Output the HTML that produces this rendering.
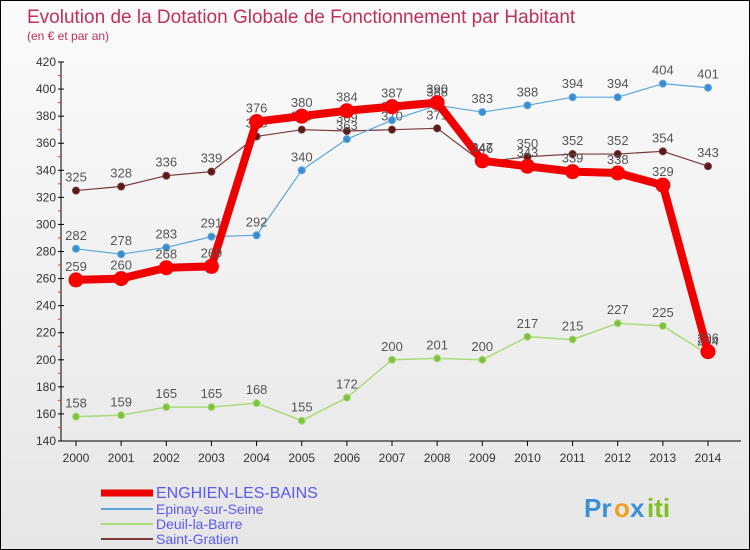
<!DOCTYPE html>
<html><head><meta charset="utf-8"><style>
body{margin:0}
#c{width:748px;height:548px;border:1px solid #000;background:linear-gradient(#fbfbfb,#e6e6e6);position:relative;font-family:"Liberation Sans",sans-serif;overflow:hidden}
</style></head><body>
<div id="c">
<svg id="s" width="748" height="548" xmlns="http://www.w3.org/2000/svg">
<text x="26" y="22" font-size="19" fill="#c0305a">Evolution de la Dotation Globale de Fonctionnement par Habitant</text>
<text x="26" y="39" font-size="12" fill="#c0305a">(en € et par an)</text>
<g id="axes"></g><g id="series"></g><g id="legend"></g>
<g font-size="26" font-weight="bold">
<text x="583" y="516" fill="#3a8fd8">Pr</text><text x="613" y="516" fill="#f0a020">o</text><text x="629" y="516" fill="#3a8fd8">x</text><text x="646" y="516" fill="#80c020">iti</text>
</g>
</svg>
</div>
<script>
const years=[2000,2001,2002,2003,2004,2005,2006,2007,2008,2009,2010,2011,2012,2013,2014];
const yTicks=[140,160,180,200,220,240,260,280,300,320,340,360,380,400,420];
const enghien=[259,260,268,269,376,380,384,387,390,347,343,339,338,329,206];
const epinay=[282,278,283,291,292,340,363,377,388,383,388,394,394,404,401];
const deuil=[158,159,165,165,168,155,172,200,201,200,217,215,227,225,204];
const gratien=[325,328,336,339,365,370,369,370,371,346,350,352,352,354,343];
const NS="http://www.w3.org/2000/svg";
const X=i=>75+i*(707-75)/14;
const Y=v=>440-(v-140)*(379/280);
function mk(t,a,p){const e=document.createElementNS(NS,t);for(const k in a)e.setAttribute(k,a[k]);p.appendChild(e);return e;}
const ax=document.getElementById('axes');
const yl=mk('line',{x1:60,y1:Y(420),x2:60,y2:Y(140),stroke:'#000'},ax);


const xl=mk('line',{x1:60,y1:440,x2:740,y2:440,stroke:'#000'},ax);


yTicks.forEach(v=>{
 mk('line',{x1:57,y1:Y(v),x2:63,y2:Y(v),stroke:'#000'},ax);
 if(v<420) mk('line',{x1:57,y1:Y(v+10),x2:60,y2:Y(v+10),stroke:'#e33'},ax);
 const t=mk('text',{x:55,y:Y(v)+4,'font-size':12,fill:'#333','text-anchor':'end'},ax);t.textContent=v;
 
 
});
years.forEach((y,i)=>{
 mk('line',{x1:X(i),y1:440,x2:X(i),y2:445,stroke:'#000'},ax);
 const t=mk('text',{x:X(i),y:461,'font-size':12,fill:'#333','text-anchor':'middle'},ax);t.textContent=y;
 
 
});
const sg=document.getElementById('series');
function draw(data,name,col,dot,w,r){
 const g=mk('g',{},sg);
 
 
 mk('polyline',{points:data.map((v,i)=>X(i)+','+Y(v)).join(' '),fill:'none',stroke:col,'stroke-width':w,'stroke-linejoin':'round'},g);
 data.forEach((v,i)=>{
  const c=mk('circle',{cx:X(i),cy:Y(v),r:r,fill:dot,stroke:col,'stroke-width':1},g);
  
  
  const t=mk('text',{x:X(i),y:Y(v)-9,'font-size':13,fill:'#555','text-anchor':'middle'},g);t.textContent=v;
  
  
 });
}
draw(deuil,'deuil-la-barre','#a8dc78','#80c040',1.5,3.5);
draw(gratien,'saint-gratien','#7a3838','#5a1a1a',1.2,3.5);
draw(epinay,'epinay-sur-seine','#5aa6dc','#3a8ed0',1.2,3.5);
draw(enghien,'enghien-les-bains','#ee0000','#ff0000',8,7);
const lg=document.getElementById('legend');
[['ENGHIEN-LES-BAINS','#ee0000',7,492,16],['Epinay-sur-Seine','#5aa6dc',2,508,14],['Deuil-la-Barre','#a8dc78',2,523,14],['Saint-Gratien','#7a3838',2,538,14]].forEach(d=>{
 const g=mk('g',{},lg);
 
 
 mk('line',{x1:100,y1:d[3],x2:152,y2:d[3],stroke:d[1],'stroke-width':d[2]},g);
 const t=mk('text',{x:155,y:d[3]+5,'font-size':d[4],fill:'#5a5aee'},g);t.textContent=d[0];
});
</script>
</body></html>
